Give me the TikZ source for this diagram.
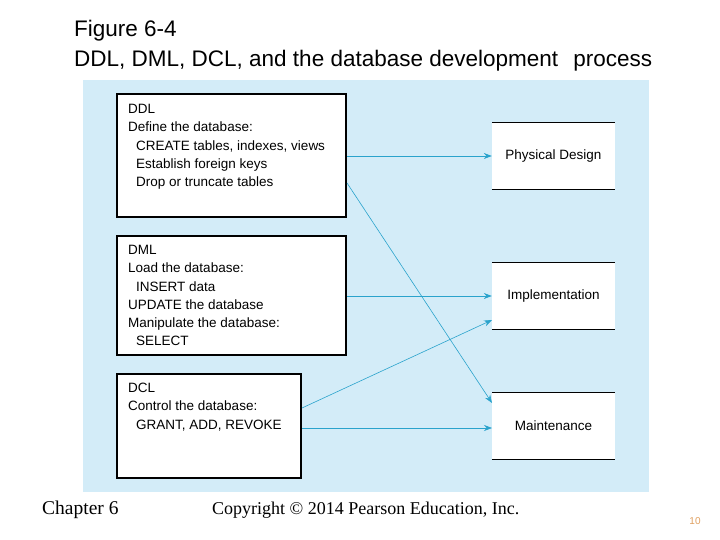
\documentclass[tikz,border=0pt]{standalone}
\usepackage{fontspec}
\setmainfont{Liberation Sans}
\newfontfamily\serifx{Liberation Serif}
\usetikzlibrary{arrows.meta}
\definecolor{panel}{HTML}{D3ECF8}
\definecolor{arr}{HTML}{2AA3CC}
\definecolor{pg}{HTML}{E0A060}
\tikzset{
 leftbox/.style={draw=black,line width=2pt,fill=white,inner sep=0pt},
 boxtxt/.style={anchor=north west,align=left,font=\fontsize{13.5}{18.3}\selectfont,inner sep=0pt},
 rbox/.style={fill=white,minimum width=123pt,minimum height=66pt,inner sep=0pt,font=\fontsize{13.5}{16}\selectfont},
 conn/.style={draw=arr,line width=0.6pt,-{Stealth[length=8pt,width=6pt]}}
}
\begin{document}
\begin{tikzpicture}[x=1pt,y=-1pt]
\useasboundingbox (0,0) rectangle (720,540);
\fill[white] (0,0) rectangle (720,540);
\node[anchor=north west,align=left,inner sep=0pt,font=\fontsize{22.5}{30}\selectfont] (title) at (74,20) {Figure 6-4\\DDL, DML, DCL, and the database development\hspace{0.4em} process};
\fill[panel] (83,80) rectangle (649,492);
\draw[leftbox] (117,94) rectangle (346,217);
\draw[leftbox] (117,236) rectangle (346,355);
\draw[leftbox] (117,374) rectangle (301,478);
\node[boxtxt] (ddl) at (128,104) {DDL\\Define the database:\\\hspace*{8pt}CREATE tables, indexes, views\\\hspace*{8pt}Establish foreign keys\\\hspace*{8pt}Drop or truncate tables};
\node[boxtxt] (dml) at (128,245) {DML\\Load the database:\\\hspace*{8pt}INSERT data\\UPDATE the database\\Manipulate the database:\\\hspace*{8pt}SELECT};
\node[boxtxt] (dcl) at (128,383) {DCL\\Control the database:\\\hspace*{8pt}GRANT, ADD, REVOKE};
\node[rbox] (pd) at (553.5,156) {Physical Design};
\node[rbox] (im) at (553.5,296) {Implementation};
\node[rbox] (mt) at (553.5,426) {Maintenance};
\foreach \n in {pd,im,mt}{\draw[black,line width=0.8pt] (\n.north west)--(\n.north east) (\n.south west)--(\n.south east);}
\coordinate (a1) at (347,156);
\coordinate (a2) at (347,183);
\coordinate (a3) at (347,296);
\coordinate (a4) at (302,408);
\coordinate (a5) at (302,428);
\draw[conn] (a1) -- (pd.west);
\draw[conn] (a2) -- (492,403);
\draw[conn] (a3) -- (im.west);
\draw[conn] (a4) -- (492,320);
\draw[conn] (a5) -- (492,428);
\node[anchor=west,inner sep=0pt,font=\serifx\fontsize{19.5}{22}\selectfont] (ch) at (42,510) {Chapter 6};
\node[anchor=west,inner sep=0pt,font=\serifx\fontsize{18}{22}\selectfont] (cp) at (212,510) {Copyright © 2014 Pearson Education, Inc.};
\node[anchor=center,inner sep=0pt,text=pg,font=\fontsize{10}{11}\selectfont] (pn) at (695,521) {10};
\end{tikzpicture}
\end{document}
